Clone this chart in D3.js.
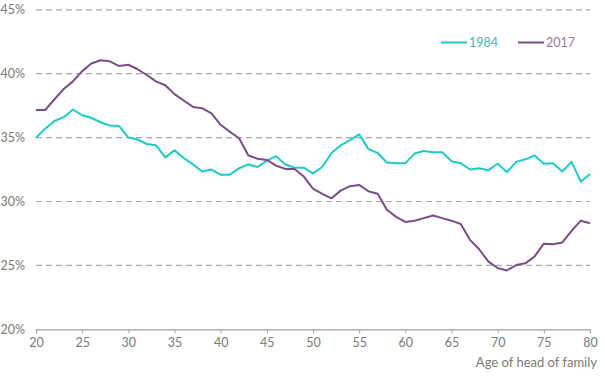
<!DOCTYPE html>
<html>
<head>
<meta charset="utf-8">
<script src="https://cdn.jsdelivr.net/npm/d3@7"></script>
<style>
  html, body { margin: 0; padding: 0; background: #fff; }
  svg { display: block; font-family: Lato, "Open Sans", sans-serif; }
</style>
</head>
<body>
<svg id="chart" width="605" height="379"></svg>
<script>
const ages = d3.range(20, 81);
const series1984 = [35.0, 35.7, 36.3, 36.6, 37.2, 36.75, 36.55, 36.2, 35.95, 35.9,
  35.0, 34.85, 34.5, 34.4, 33.45, 34.0, 33.4, 32.9, 32.35, 32.5,
  32.1, 32.1, 32.6, 32.9, 32.7, 33.2, 33.55, 32.9, 32.65, 32.65,
  32.2, 32.7, 33.8, 34.4, 34.8, 35.25, 34.1, 33.8, 33.05, 33.0,
  33.0, 33.75, 33.95, 33.85, 33.85, 33.15, 33.0, 32.5, 32.6, 32.45,
  32.95, 32.3, 33.1, 33.3, 33.6, 32.95, 33.0, 32.35, 33.1, 31.55, 32.15];
const series2017 = [37.16, 37.16, 38.0, 38.8, 39.4, 40.2, 40.8, 41.05, 40.97, 40.6,
  40.7, 40.35, 39.9, 39.4, 39.1, 38.4, 37.9, 37.4, 37.3, 36.9,
  36.0, 35.45, 34.95, 33.6, 33.35, 33.25, 32.8, 32.55, 32.55, 31.95,
  31.0, 30.6, 30.25, 30.85, 31.2, 31.3, 30.8, 30.6, 29.35, 28.8,
  28.4, 28.5, 28.7, 28.9, 28.7, 28.5, 28.24, 27.0, 26.26, 25.3,
  24.8, 24.6, 25.03, 25.16, 25.7, 26.7, 26.65, 26.8, 27.7, 28.5, 28.3];
const xTicks = [20, 25, 30, 35, 40, 45, 50, 55, 60, 65, 70, 75, 80];
const yTicks = [20, 25, 30, 35, 40, 45];
const seriesNames = ["1984", "2017"];
const seriesColors = ["#1fc9c9", "#7b4d87"];
const legendTextColors = ["#4bb3b3", "#9a78a3"];

const svg = d3.select("#chart");
const x = d3.scaleLinear().domain([20, 80]).range([36, 590]);
const y = d3.scaleLinear().domain([20, 45]).range([329.3, 9.8]);

// gridlines
svg.append("g").selectAll("line")
  .data(yTicks.filter(d => d > 20))
  .join("line")
  .attr("x1", x(20)).attr("x2", x(80))
  .attr("y1", d => y(d)).attr("y2", d => y(d))
  .attr("stroke", "#a8a8a8").attr("stroke-width", 1.2)
  .attr("stroke-dasharray", "6,4");

// y labels
svg.append("g").selectAll("text")
  .data(yTicks)
  .join("text")
  .attr("x", 25).attr("y", d => y(d))
  .attr("dy", "0.35em")
  .attr("text-anchor", "end")
  .attr("fill", "#7a7a7a").attr("font-size", 12.5)
  .text(d => d + "%");

// x axis
const xAxis = d3.axisBottom(x).tickValues(xTicks).tickSize(4).tickPadding(5).tickFormat(d3.format("d"));
const gx = svg.append("g").attr("transform", `translate(0,${y(20)})`).call(xAxis);
gx.select(".domain").attr("stroke", "#a0a0a0").attr("stroke-width", 1.2);
gx.selectAll(".tick line").attr("stroke", "#a0a0a0");
gx.selectAll(".tick text").attr("fill", "#7a7a7a").attr("font-size", 12.5).attr("font-family", "Lato, sans-serif");

svg.append("text")
  .attr("x", 597).attr("y", 367)
  .attr("text-anchor", "end")
  .attr("fill", "#7a7a7a").attr("font-size", 13)
  .text("Age of head of family");

// lines
const line = d3.line().x((d, i) => x(ages[i])).y(d => y(d));
[series1984, series2017].forEach((s, k) => {
  svg.append("path")
    .datum(s)
    .attr("fill", "none")
    .attr("stroke", seriesColors[k])
    .attr("stroke-width", 2)
    .attr("stroke-linejoin", "round")
    .attr("d", line);
});

// legend
const legendX = [441, 518];
seriesNames.forEach((n, k) => {
  const g = svg.append("g");
  g.append("line")
    .attr("x1", legendX[k]).attr("x2", legendX[k] + 26)
    .attr("y1", 42.5).attr("y2", 42.5)
    .attr("stroke", seriesColors[k]).attr("stroke-width", 2);
  g.append("text")
    .attr("x", legendX[k] + 28).attr("y", 42.5)
    .attr("dy", "0.35em")
    .attr("fill", legendTextColors[k]).attr("font-size", 12.5)
    .text(n);
});
</script>
</body>
</html>
